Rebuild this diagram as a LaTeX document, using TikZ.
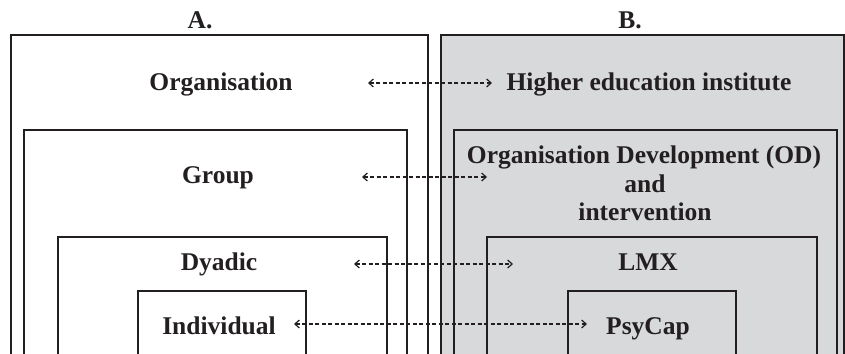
\documentclass[tikz,border=0pt]{standalone}
\usepackage{fontspec}
\setmainfont{Liberation Serif}
\usetikzlibrary{arrows.meta}
\definecolor{panelgray}{RGB}{216,217,219}
\definecolor{ink}{RGB}{35,31,32}
\begin{document}
\begin{tikzpicture}[x=1pt,y=-1pt,
  outerframe/.style={draw=ink,line width=1.6pt},
  innerframe/.style={draw=ink,line width=1.1pt},
  lbl/.style={font=\bfseries\fontsize{25.5}{28}\selectfont, inner sep=0pt, anchor=base, text=ink},
  link/.style={draw=ink, dash pattern=on 4pt off 2.5pt, line width=1.2pt,
    {Straight Barb[length=4.5pt,width=8pt,line width=1.2pt]}-{Straight Barb[length=4.5pt,width=8pt,line width=1.2pt]}}]
\useasboundingbox (0,0) rectangle (845,353);
\clip (0,0) rectangle (845,353);

% panel B background
\fill[panelgray] (441,35) rectangle (844,370);

% panel A frames (open at the bottom)
\draw[outerframe] (11,370) |- (428,35) -- (428,370);
\draw[innerframe] (24,370) |- (407,130) -- (407,370);
\draw[innerframe] (58,370) |- (387,237) -- (387,370);
\draw[innerframe] (138,370) |- (306,291) -- (306,370);

% panel B frames (open at the bottom)
\draw[outerframe] (441,370) |- (844,35) -- (844,370);
\draw[innerframe] (454,370) |- (837,130) -- (837,370);
\draw[innerframe] (487,370) |- (817,237) -- (817,370);
\draw[innerframe] (568,370) |- (736,291) -- (736,370);

% headings
\node[lbl] (ha) at (200,29) {A.};
\node[lbl] (hb) at (630,29) {B.};

% panel A levels
\node[lbl] (org) at (221,90) {Organisation};
\node[lbl] (grp) at (218,183) {Group};
\node[lbl] (dya) at (219,270) {Dyadic};
\node[lbl] (ind) at (219,334) {Individual};

% panel B levels
\node[lbl] (hei) at (649,90) {Higher education institute};
\node[lbl] (od) at (644,163) {Organisation Development (OD)};
\node[lbl] (odand) at (645,192) {and};
\node[lbl] (odint) at (645,220) {intervention};
\node[lbl] (lmx) at (648,270) {LMX};
\node[lbl] (psy) at (648,334) {PsyCap};

% link end points
\coordinate (l1a) at (368,83);  \coordinate (l1b) at (492,83);
\coordinate (l2a) at (362,177); \coordinate (l2b) at (487,177);
\coordinate (l3a) at (354,264); \coordinate (l3b) at (513,264);
\coordinate (l4a) at (294,324); \coordinate (l4b) at (587,324);

% dashed two-way links between the levels
\draw[link] (l1a) -- (l1b);
\draw[link] (l2a) -- (l2b);
\draw[link] (l3a) -- (l3b);
\draw[link] (l4a) -- (l4b);
\end{tikzpicture}
\end{document}
